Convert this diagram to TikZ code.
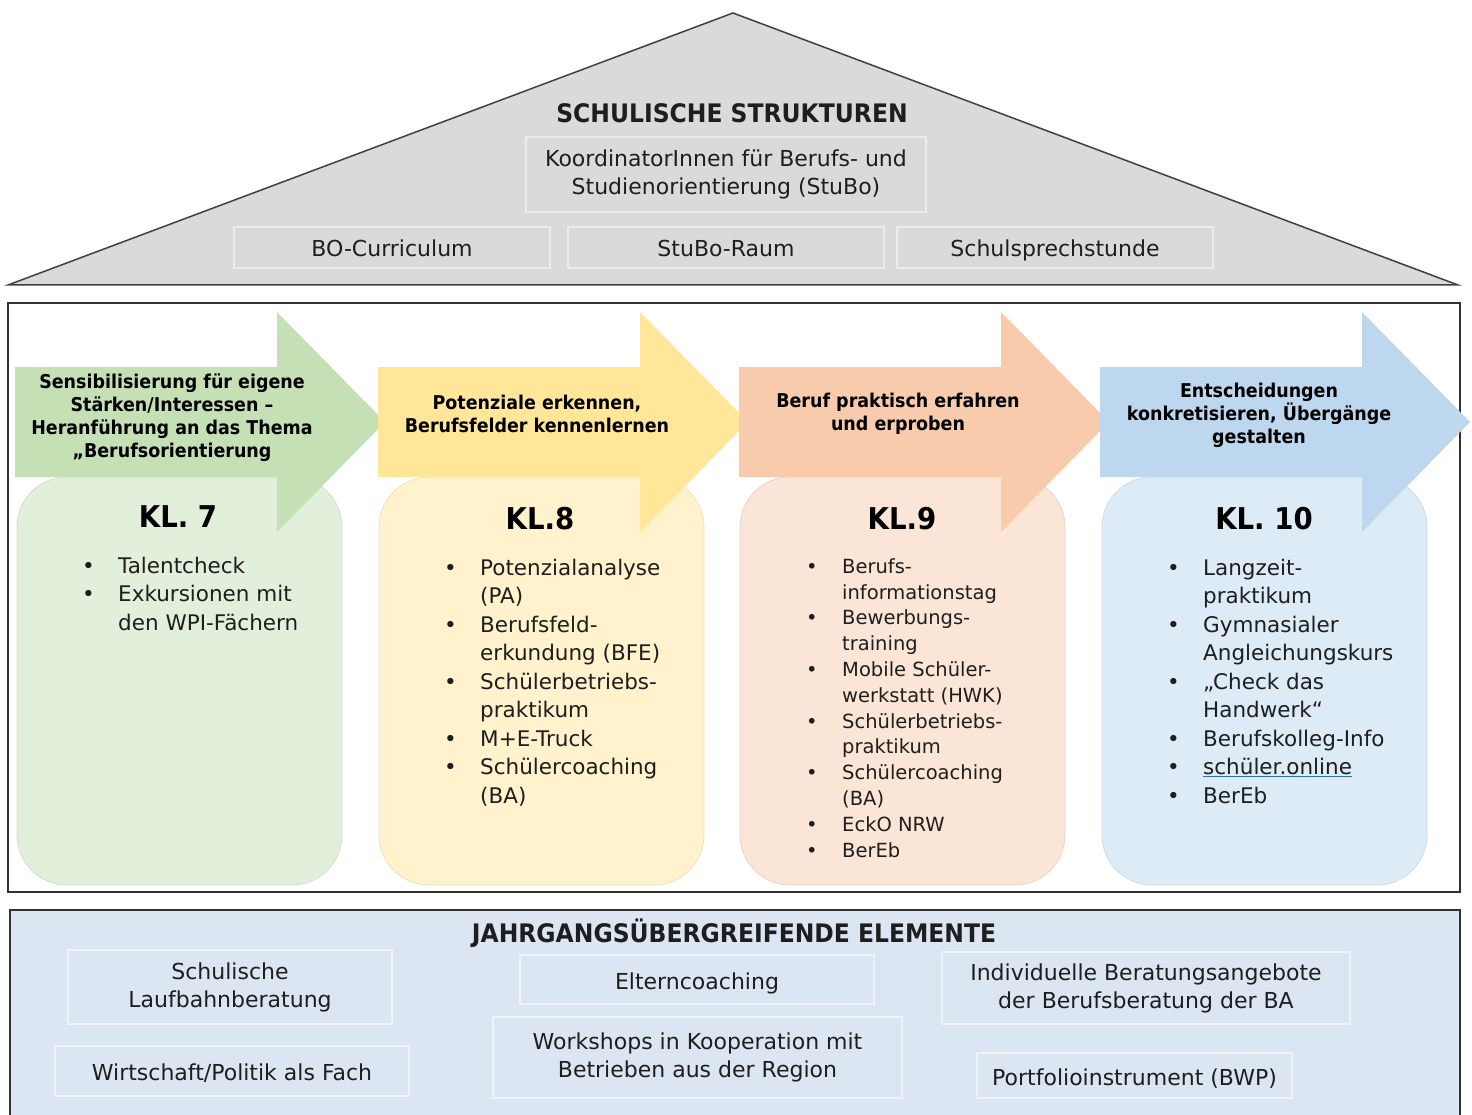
\documentclass[tikz,border=0pt]{standalone}
\usepackage{fontspec}
\setmainfont{DejaVu Sans}
\newfontfamily\boxfont{DejaVu Sans}[FakeStretch=0.92]
\definecolor{roofgray}{RGB}{218,218,218}
\definecolor{roofline}{RGB}{64,64,64}
\definecolor{roofedge}{RGB}{236,236,236}
\definecolor{framecol}{RGB}{50,50,50}
\definecolor{panelblue}{RGB}{220,230,242}
\definecolor{paneledge}{RGB}{238,243,250}
\definecolor{textgray}{RGB}{30,30,30}
\definecolor{grarrow}{RGB}{197,224,180}
\definecolor{yearrow}{RGB}{255,230,153}
\definecolor{orarrow}{RGB}{248,203,173}
\definecolor{blarrow}{RGB}{189,215,238}
\definecolor{grbox}{RGB}{226,239,218}
\definecolor{yebox}{RGB}{255,242,204}
\definecolor{orbox}{RGB}{251,229,214}
\definecolor{blbox}{RGB}{221,235,247}
\definecolor{linkblue}{RGB}{46,116,181}
\begin{document}
\begin{tikzpicture}[x=1pt,y=-1pt,
  roofbox/.style={draw=roofedge, line width=1.5pt, fill=roofgray, inner sep=0pt, align=center,
    text=textgray, font=\fontsize{22}{28}\selectfont},
  panelbox/.style={roofbox, draw=paneledge, fill=panelblue},
  oneline/.style={text height=21pt, text depth=2pt},
  titletext/.style={text=textgray, font=\boxfont\bfseries\fontsize{25.5}{30}\selectfont},
  arrowtext/.style={align=center, text=black, font=\boxfont\bfseries\fontsize{19}{23}\selectfont},
  kltext/.style={text=black, font=\boxfont\bfseries\fontsize{30}{34}\selectfont},
  itemlist/.style={anchor=north west, inner sep=0pt, text=textgray, font=\fontsize{21.5}{28.5}\selectfont}]
\useasboundingbox (0,0) rectangle (1472,1115);

\coordinate (apex) at (733,13);
\coordinate (roofL) at (8,285);
\coordinate (roofR) at (1458,285);
\draw [roofline, fill=roofgray, line width=1.5pt] (roofL) -- (apex) -- (roofR) -- cycle;
\node [titletext] (roof) at (732,113) {SCHULISCHE STRUKTUREN};
\node [roofbox, minimum width=400pt, minimum height=75pt] (stubo) at (726,174.5) {KoordinatorInnen für Berufs- und\\Studienorientierung (StuBo)};
\node [roofbox, oneline, minimum width=316pt, minimum height=41pt] (curr) at (392,247.5) {BO-Curriculum};
\node [roofbox, oneline, minimum width=316pt, minimum height=41pt] (raum) at (726,247.5) {StuBo-Raum};
\node [roofbox, oneline, minimum width=316pt, minimum height=41pt] (sprech) at (1055,247.5) {Schulsprechstunde};

\draw [framecol, line width=1.5pt] (8,303) rectangle (1460,892);
\foreach \x/\c in {17/grbox, 379/yebox, 740/orbox, 1102/blbox}
  \draw [draw=\c!93!black, line width=0.8pt, fill=\c, rounded corners=50pt] (\x,477) rectangle ++(325,408);
\foreach \x/\c in {15/grarrow, 378/yearrow, 739/orarrow, 1100/blarrow}
  \fill [\c] (\x,367) -- ++(262,0) -- ++(0,-55) -- ++(108,110) -- ++(-108,110) -- ++(0,-55) -- ++(-262,0) -- cycle;

\node [arrowtext] (a7) at (172,418) {Sensibilisierung für eigene\\Stärken/Interessen –\\Heranführung an das Thema\\„Berufsorientierung};
\node [arrowtext] (a8) at (537,414) {Potenziale erkennen,\\Berufsfelder kennenlernen};
\node [arrowtext] (a9) at (898,414) {Beruf praktisch erfahren\\und erproben};
\node [arrowtext] (a10) at (1259,415) {Entscheidungen\\konkretisieren, Übergänge\\gestalten};

\node [kltext] (k7) at (178,517) {KL. 7};
\node [kltext] (k8) at (540,519) {KL.8};
\node [kltext] (k9) at (902,519) {KL.9};
\node [kltext] (k10) at (1264,519) {KL. 10};

\node [itemlist] (l7) at (82,553) {\begin{tabular}{@{}p{36pt}@{}l@{}}
•&Talentcheck\\
•&Exkursionen mit\\
&den WPI-Fächern
\end{tabular}};
\node [itemlist] (l8) at (444,555) {\begin{tabular}{@{}p{36pt}@{}l@{}}
•&Potenzialanalyse\\
&(PA)\\
•&Berufsfeld-\\
&erkundung (BFE)\\
•&Schülerbetriebs-\\
&praktikum\\
•&M+E-Truck\\
•&Schülercoaching\\
&(BA)
\end{tabular}};
\node [itemlist, font=\fontsize{19.5}{25.8}\selectfont] (l9) at (806,555) {\begin{tabular}{@{}p{36pt}@{}l@{}}
•&Berufs-\\
&informationstag\\
•&Bewerbungs-\\
&training\\
•&Mobile Schüler-\\
&werkstatt (HWK)\\
•&Schülerbetriebs-\\
&praktikum\\
•&Schülercoaching\\
&(BA)\\
•&EckO NRW\\
•&BerEb
\end{tabular}};
\node [itemlist] (l10) at (1167,555) {\begin{tabular}{@{}p{36pt}@{}l@{}}
•&Langzeit-\\
&praktikum\\
•&Gymnasialer\\
&Angleichungskurs\\
•&„Check das\\
&Handwerk“\\
•&Berufskolleg-Info\\
•&{\color{linkblue}\underline{\textcolor{textgray}{schüler.online}}}\\
•&BerEb
\end{tabular}};

\draw [framecol, line width=1.5pt, fill=panelblue] (10,910) rectangle (1460,1130);
\node [titletext] (jahr) at (734,933) {JAHRGANGSÜBERGREIFENDE ELEMENTE};
\node [panelbox, minimum width=324pt, minimum height=74pt] (lauf) at (230,987) {Schulische\\Laufbahnberatung};
\node [panelbox, oneline, minimum width=354pt, minimum height=49pt] (eltern) at (697,979.5) {Elterncoaching};
\node [panelbox, minimum width=408pt, minimum height=72pt] (indiv) at (1146,988) {Individuelle Beratungsangebote\\der Berufsberatung der BA};
\node [panelbox, oneline, minimum width=354pt, minimum height=50pt] (wipo) at (232,1071) {Wirtschaft/Politik als Fach};
\node [panelbox, minimum width=409pt, minimum height=81pt] (work) at (697.5,1057.5) {Workshops in Kooperation mit\\Betrieben aus der Region};
\node [panelbox, oneline, minimum width=315pt, minimum height=45pt] (port) at (1134.5,1075.5) {Portfolioinstrument (BWP)};
\end{tikzpicture}
\end{document}
